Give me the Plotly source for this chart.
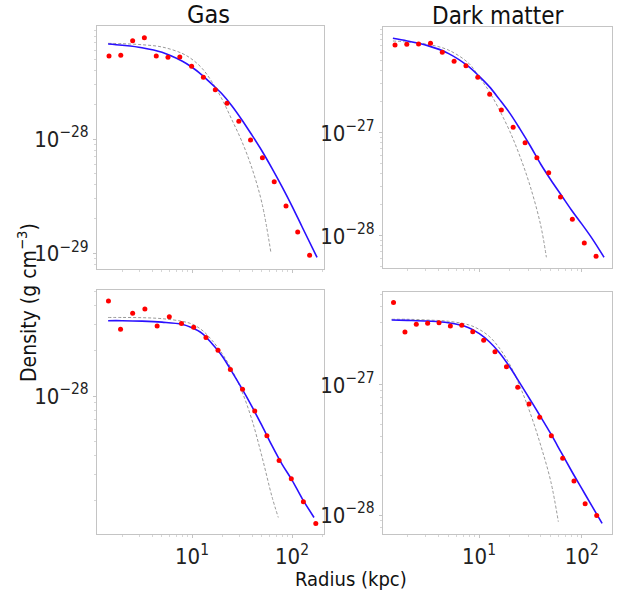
import math
import plotly.graph_objects as go

# Browser window is 622x601; the page body's default margin is removed after
# plotting so that figure pixels coincide with window pixels.
W, H = 622, 601


def fx(X):
    return X / W


def fy(Y):
    return 1 - Y / H


# ---------------- data (radius in kpc, density in g cm^-3) ----------------
# Top-left: Gas, cluster 1
r_gas1 = [1.48, 1.94, 2.55, 3.34, 4.39, 5.75, 7.55, 9.91, 13.0, 17.1, 22.4, 29.4,
          38.5, 50.6, 66.4, 87.1, 114, 150]
rho_gas1 = [5.35e-28, 5.42e-28, 7.28e-28, 7.74e-28, 5.35e-28, 5.21e-28, 5.24e-28,
            4.35e-28, 3.48e-28, 2.70e-28, 2.06e-28, 1.43e-28, 9.79e-29, 6.85e-29,
            4.22e-29, 2.58e-29, 1.53e-29, 9.55e-30]
rm_gas1_fit = [1.45, 2.0, 3.16, 5.01, 7.94, 10, 12.6, 15.8, 20, 25.1, 31.6, 39.8,
               50.1, 63.1, 79.4, 100, 126, 178]
fit_gas1 = [6.81e-28, 6.64e-28, 6.32e-28, 5.77e-28, 4.83e-28, 4.26e-28, 3.64e-28,
            3.03e-28, 2.48e-28, 1.95e-28, 1.47e-28, 1.08e-28, 7.85e-29, 5.53e-29,
            3.82e-29, 2.58e-29, 1.70e-29, 9.16e-30]
rm_gas1_alt = [1.45, 2.0, 3.16, 5.01, 7.94, 10, 12.6, 15.8, 20, 25.1, 31.6, 39.8,
               50.1, 61.7]
alt_gas1 = [6.90e-28, 6.85e-28, 6.71e-28, 6.41e-28, 5.64e-28, 5.00e-28, 4.17e-28,
            3.18e-28, 2.23e-28, 1.47e-28, 9.48e-29, 5.53e-29, 2.73e-29, 9.93e-30]

# Top-right: Dark matter, cluster 1
r_dm1 = [1.52, 1.98, 2.58, 3.37, 4.39, 5.72, 7.46, 9.72, 12.7, 16.5, 21.5, 28.1,
         36.6, 47.7, 62.2, 81.1, 106, 138]
rho_dm1 = [7.14e-27, 7.26e-27, 7.31e-27, 7.43e-27, 6.07e-27, 4.97e-27, 4.50e-27,
           3.48e-27, 2.38e-27, 1.67e-27, 1.135e-27, 8.05e-28, 5.75e-28, 4.12e-28,
           2.39e-28, 1.45e-28, 8.55e-29, 6.35e-29]
rm_dm1_fit = [1.45, 2.0, 3.16, 5.01, 7.94, 10, 12.6, 15.8, 20, 25.1, 31.6, 39.8,
              50.1, 63.1, 79.4, 100, 126, 165]
fit_dm1 = [8.30e-27, 7.82e-27, 7.05e-27, 5.93e-27, 4.41e-27, 3.57e-27, 2.82e-27,
           2.12e-27, 1.55e-27, 1.09e-27, 7.48e-28, 5.00e-28, 3.50e-28, 2.50e-28,
           1.79e-28, 1.31e-28, 9.48e-29, 6.21e-29]
rm_dm1_alt = [1.45, 2.0, 3.16, 5.01, 7.94, 10, 12.6, 15.8, 20, 25.1, 31.6, 39.8, 45.3]
alt_dm1 = [7.82e-27, 7.64e-27, 7.26e-27, 6.40e-27, 4.75e-27, 3.52e-27, 2.52e-27,
           1.67e-27, 1.03e-27, 5.89e-28, 3.01e-28, 1.28e-28, 6.21e-29]

# Bottom-left: Gas, cluster 2
r_gas2 = [1.46, 1.93, 2.55, 3.38, 4.48, 5.93, 7.85, 10.4, 13.8, 18.2, 24.2, 32.0,
          42.4, 56.1, 74.3, 98.4, 130, 173]
rho_gas2 = [4.30e-28, 2.79e-28, 3.56e-28, 3.80e-28, 2.93e-28, 3.38e-28, 3.05e-28,
            2.88e-28, 2.46e-28, 2.02e-28, 1.50e-28, 1.11e-28, 7.94e-29, 5.43e-29,
            3.72e-29, 2.81e-29, 1.97e-29, 1.41e-29]
rm_gas2_fit = [1.45, 2.0, 3.16, 5.01, 7.94, 10, 12.6, 15.8, 20, 25.1, 31.6, 39.8,
               50.1, 63.1, 79.4, 100, 126, 166]
fit_gas2 = [3.18e-28, 3.18e-28, 3.16e-28, 3.11e-28, 3.01e-28, 2.85e-28, 2.62e-28,
            2.24e-28, 1.85e-28, 1.45e-28, 1.12e-28, 8.49e-29, 6.34e-29, 4.67e-29,
            3.52e-29, 2.75e-29, 2.08e-29, 1.55e-29]
rm_gas2_alt = [1.45, 2.0, 3.16, 5.01, 7.94, 10, 12.6, 15.8, 20, 25.1, 31.6, 39.8,
               50.1, 63.1, 72.9]
alt_gas2 = [3.34e-28, 3.34e-28, 3.33e-28, 3.28e-28, 3.15e-28, 3.02e-28, 2.75e-28,
            2.36e-28, 1.92e-28, 1.49e-28, 1.07e-28, 6.92e-29, 3.94e-29, 2.13e-29,
            1.55e-29]

# Bottom-right: Dark matter, cluster 2
r_dm2 = [1.47, 1.90, 2.45, 3.16, 4.08, 5.26, 6.79, 8.69, 11.1, 14.3, 18.5, 23.8,
         30.7, 39.0, 50.6, 65.3, 84.1, 108, 140]
rho_dm2 = [4.30e-27, 2.56e-27, 2.93e-27, 2.98e-27, 3.01e-27, 2.84e-27, 2.88e-27,
           2.57e-27, 2.21e-27, 1.80e-27, 1.38e-27, 9.59e-28, 7.14e-28, 5.64e-28,
           4.07e-28, 2.73e-28, 1.83e-28, 1.22e-28, 9.93e-29]
rm_dm2_fit = [1.41, 2.0, 3.16, 5.01, 7.94, 10, 12.6, 15.8, 20, 25.1, 31.6, 39.8,
              50.1, 63.1, 79.4, 100, 126, 158]
fit_dm2 = [3.16e-27, 3.14e-27, 3.10e-27, 3.01e-27, 2.76e-27, 2.49e-27, 2.15e-27,
           1.77e-27, 1.37e-27, 1.03e-27, 7.67e-28, 5.70e-28, 4.20e-28, 3.03e-28,
           2.19e-28, 1.60e-28, 1.17e-28, 8.63e-29]
rm_dm2_alt = [1.41, 2.0, 3.16, 5.01, 7.94, 10, 12.6, 15.8, 20, 25.1, 31.6, 39.8,
              50.1, 59.2]
alt_dm2 = [3.20e-27, 3.20e-27, 3.16e-27, 3.09e-27, 2.90e-27, 2.68e-27, 2.36e-27,
           1.92e-27, 1.43e-27, 9.70e-28, 6.05e-28, 3.45e-28, 1.80e-28, 8.89e-29]

column_titles = ["Gas", "Dark matter"]
x_title = "Radius (kpc)"
y_title = "Density (g cm<sup>−3</sup>)"
x_tick_vals = [10, 100]
x_tick_text = ["10<sup>1</sup>", "10<sup>2</sup>"]
y_ticks_tl = [1e-28, 1e-29]
y_ticks_tr = [1e-27, 1e-28]
y_ticks_bl = [1e-28]
y_ticks_br = [1e-27, 1e-28]


def power_text(vals):
    out = []
    for v in vals:
        e = round(math.log10(v))
        out.append("10<sup>" + ("−" if e < 0 else "") + str(abs(e)) + "</sup>")
    return out


# ---------------- layout geometry (reference pixels) ----------------
panels = [
    (r_gas1, rho_gas1, rm_gas1_fit, fit_gas1, rm_gas1_alt, alt_gas1,
     (97, 324, 26, 269), [0.05, 2.32], [-29.14, -27.009], y_ticks_tl, False),
    (r_dm1, rho_dm1, rm_dm1_fit, fit_dm1, rm_dm1_alt, alt_dm1,
     (383, 612, 27, 268), [0.065, 2.295], [-28.311, -25.971], y_ticks_tr, False),
    (r_gas2, rho_gas2, rm_gas2_fit, fit_gas2, rm_gas2_alt, alt_gas2,
     (97, 324, 290, 534), [0.05, 2.32], [-28.92, -27.293], y_ticks_bl, True),
    (r_dm2, rho_dm2, rm_dm2_fit, fit_dm2, rm_dm2_alt, alt_dm2,
     (383, 612, 292, 534), [0.065, 2.295], [-28.146, -26.285], y_ticks_br, True),
]

FONT = "DejaVu Sans Condensed, DejaVu Sans"
fig = go.Figure()
layout = dict(
    width=W, height=H, margin=dict(l=0, r=0, t=0, b=0, autoexpand=False),
    paper_bgcolor="white", plot_bgcolor="white", showlegend=False,
    font=dict(family=FONT, color="#222222"), hovermode=False,
)

for i, (r, rho, rf, fit, ra, alt, box, xr, yr, yt, xlab) in enumerate(panels, start=1):
    sx = "" if i == 1 else str(i)
    xa, ya = "x" + sx, "y" + sx
    fig.add_trace(go.Scatter(x=ra, y=alt, mode="lines", xaxis=xa, yaxis=ya,
                             line=dict(color="#9a9a9a", width=1, dash="3px,2px",
                                       shape="spline")))
    fig.add_trace(go.Scatter(x=rf, y=fit, mode="lines", xaxis=xa, yaxis=ya,
                             line=dict(color="#2a10ff", width=1.6, shape="spline")))
    fig.add_trace(go.Scatter(x=r, y=rho, mode="markers", xaxis=xa, yaxis=ya,
                             marker=dict(color="#ff0000", size=5)))
    l, rgt, t, b = box
    axis_common = dict(
        type="log", showline=True, linecolor="#c4c4c4", linewidth=1, mirror=True,
        showgrid=False, zeroline=False, ticks="outside", ticklen=3,
        tickcolor="#c4c4c4", automargin=False,
        tickfont=dict(family=FONT, size=22, color="#222222"),
        minor=dict(ticks="outside", ticklen=2, tickcolor="#d6d6d6", dtick="D1",
                   showgrid=False),
    )
    layout["xaxis" + sx] = dict(axis_common, domain=[fx(l), fx(rgt)], range=xr,
                                anchor=ya, showticklabels=xlab,
                                tickvals=x_tick_vals, ticktext=x_tick_text)
    layout["yaxis" + sx] = dict(axis_common, domain=[fy(b), fy(t)], range=yr,
                                anchor=xa, tickvals=yt, ticktext=power_text(yt))


def label(text, X, Y, size, angle=0):
    return dict(text=text, x=fx(X), y=fy(Y), xref="paper", yref="paper",
                xanchor="center", yanchor="middle", showarrow=False, textangle=angle,
                font=dict(family=FONT, size=size, color="#111111"))


layout["annotations"] = [
    label(column_titles[0], 208, 15, 25),
    label(column_titles[1], 498, 16, 24),
    label(x_title, 351, 579, 20),
    label(y_title, 27, 303, 21, -90),
]
fig.update_layout(**layout)
fig.write_html(
    "out.html",
    config={"displayModeBar": False, "staticPlot": True},
    post_script="document.body.style.margin='0';document.body.style.overflow='hidden';",
)
